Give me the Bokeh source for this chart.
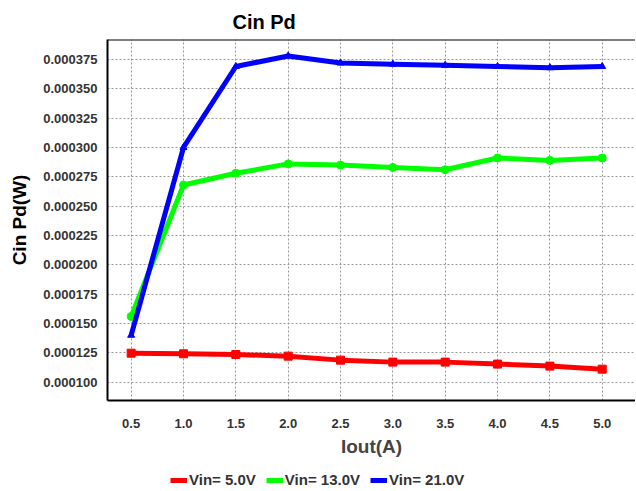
from bokeh.plotting import figure
from bokeh.layouts import column
from bokeh.models import (FixedTicker, PrintfTickFormatter, Range1d, Span, Legend, LegendItem)
from bokeh.embed import file_html
from bokeh.resources import INLINE

iout = [0.5, 1.0, 1.5, 2.0, 2.5, 3.0, 3.5, 4.0, 4.5, 5.0]
vin5 = [0.0001247, 0.0001242, 0.0001236, 0.0001222, 0.0001188, 0.0001171, 0.0001171, 0.0001154, 0.0001137, 0.0001111]
vin13 = [0.000156, 0.000268, 0.000278, 0.000286, 0.000285, 0.000283, 0.000281, 0.000291, 0.000289, 0.000291]
vin21 = [0.000140, 0.000300, 0.000369, 0.000378, 0.000372, 0.000371, 0.000370, 0.000369, 0.000368, 0.000369]
series_names = ["Vin= 5.0V", "Vin= 13.0V", "Vin= 21.0V"]
series_colors = ["#FF0000", "#00FF00", "#0000FF"]
series_markers = ["square", "circle", "triangle"]
y_ticks = [0.0001 + 0.000025 * i for i in range(12)]

FONT = "Liberation Sans"

p = figure(width=635, height=462, output_backend="svg", toolbar_location=None,
           x_range=Range1d(0.274, 5.318), y_range=Range1d(0.0000844, 0.000392),
           min_border_left=107, min_border_top=39, min_border_bottom=62, min_border_right=0)

p.title.text = "Cin Pd"
p.title.text_font = FONT
p.title.text_font_size = "20px"
p.title.text_font_style = "bold"
p.title.align = "left"
p.title.offset = 125
p.title.standoff = 14
p.title.text_color = "black"

p.outline_line_color = None
p.background_fill_color = "white"
p.border_fill_color = "white"

for ax in (p.xaxis[0], p.yaxis[0]):
    ax.axis_line_color = "black"
    ax.axis_line_width = 2
    ax.major_tick_out = 0
    ax.major_tick_in = 0
    ax.minor_tick_out = 0
    ax.minor_tick_in = 0
    ax.major_label_text_font = FONT
    ax.major_label_text_font_style = "bold"
    ax.major_label_text_font_size = "13px"
    ax.major_label_text_color = "#333333"
    ax.axis_label_text_font = FONT
    ax.axis_label_text_font_style = "bold"
    ax.axis_label_text_font_size = "19px"

p.xaxis.ticker = FixedTicker(ticks=iout)
p.xaxis.formatter = PrintfTickFormatter(format="%.1f")
p.xaxis.axis_label = "Iout(A)"
p.xaxis.axis_label_text_color = "#444444"
p.xaxis.major_label_standoff = 18
p.xaxis.axis_label_standoff = 5

p.yaxis.ticker = FixedTicker(ticks=y_ticks)
p.yaxis.formatter = PrintfTickFormatter(format="%.6f")
p.yaxis.axis_label = "Cin Pd(W)"
p.yaxis.axis_label_text_color = "black"
p.yaxis.major_label_standoff = 10
p.yaxis.axis_label_standoff = 10

for g in (p.xgrid[0], p.ygrid[0]):
    g.grid_line_color = "#999999"
    g.grid_line_dash = "2 2"
    g.grid_line_width = 1

p.add_layout(Span(location=0.000392, dimension="width", line_color="black", line_width=2))

for ys, c, mk in zip([vin5, vin13, vin21], series_colors, series_markers):
    p.line(iout, ys, line_color=c, line_width=5)
    p.scatter(iout, ys, marker=mk, size=8 if mk != "triangle" else 7, color=c)

# legend strip below the chart (dummy renderers sit outside the visible range)
lg = figure(width=635, height=28, output_backend="svg", toolbar_location=None,
            x_range=Range1d(0, 1), y_range=Range1d(0, 1), min_border=0)
lg.axis.visible = False
lg.grid.visible = False
lg.outline_line_color = None
items = []
for name, c, mk in zip(series_names, series_colors, series_markers):
    rl = lg.line(x=[-10, -9], y=[-10, -9], line_color=c, line_width=5)
    rm = lg.scatter(x=[-10], y=[-10], marker=mk, size=7, color=c)
    items.append(LegendItem(label=name, renderers=[rl, rm]))
legend = Legend(items=items, orientation="horizontal", location=(63, 2),
                label_text_font=FONT, label_text_font_style="bold",
                label_text_font_size="15px", label_text_color="#333333",
                glyph_width=17, glyph_height=10, label_standoff=2, spacing=10,
                padding=2, margin=0, border_line_color=None, background_fill_alpha=0)
lg.add_layout(legend, "center")

layout = column(p, lg, spacing=0)
open("out.html", "w").write(file_html(layout, INLINE))
